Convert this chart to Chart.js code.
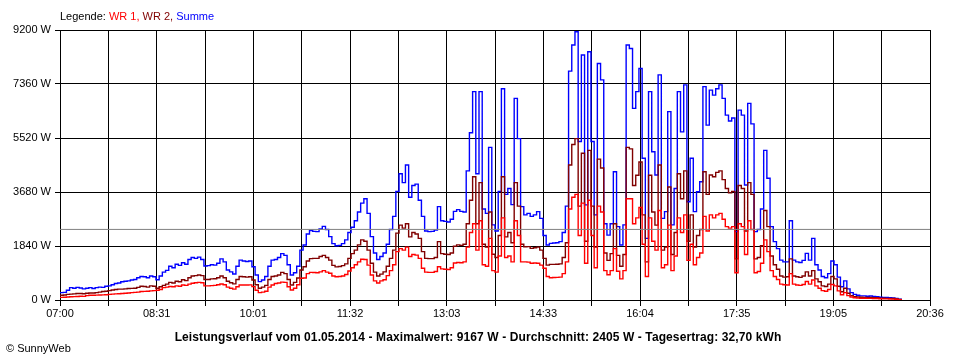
<!DOCTYPE html>
<html>
<head>
<meta charset="utf-8">
<script src="https://cdn.jsdelivr.net/npm/chart.js@4"></script>
<style>
  body { margin: 0; background: #fff; }
  #wrap { position: relative; width: 960px; height: 360px; font-family: "Liberation Sans", Arial, sans-serif; font-size: 11px; color: #000; }
  #legend { position: absolute; left: 60px; top: 10px; white-space: nowrap; }
  #title { position: absolute; left: 0; width: 956px; top: 330px; text-align: center; font-weight: bold; font-size: 12px; letter-spacing: 0.1px; white-space: nowrap; }
  #copy { position: absolute; left: 6px; top: 342px; }
  canvas { position: absolute; left: 0; top: 0; }
</style>
</head>
<body>
<div id="wrap">
  <canvas id="chart" width="960" height="360"></canvas>
  <div id="legend">Legende: <span style="color:#ff0000">WR 1,</span> <span style="color:#800000">WR 2,</span> <span style="color:#0000ff">Summe</span></div>
  <div id="title">Leistungsverlauf vom 01.05.2014 - Maximalwert: 9167 W - Durchschnitt: 2405 W - Tagesertrag: 32,70 kWh</div>
  <div id="copy">© SunnyWeb</div>
</div>
<script>
// minutes since midnight, one reading every 3 minutes from 07:00
const startMin = 420;
const stepMin = 3;
const axisStart = 420;  // 07:00
const axisEnd = 1236;   // 20:36
const timeLabels = ['07:00', '08:31', '10:01', '11:32', '13:03', '14:33', '16:04', '17:35', '19:05', '20:36'];
const yTicks = [0, 1840, 3680, 5520, 7360, 9200];
const average = 2405;

const wr1 = [
  90,95,100,110,115,120,130,125,150,160,
  160,165,170,175,180,190,200,210,215,220,
  230,240,250,260,270,290,295,300,310,320,
  330,360,420,440,460,450,480,470,510,500,
  540,570,590,600,590,480,480,490,500,520,
  545,520,440,400,370,450,510,510,510,515,
  455,330,250,270,300,440,510,560,580,610,
  600,450,340,400,520,740,750,900,940,935,
  930,960,1000,950,910,820,790,800,820,870,
  990,1100,1200,1300,1390,1380,1190,850,650,580,
  650,690,830,1000,1200,1650,1750,1700,1800,1480,
  1550,1530,1420,1080,950,940,940,970,1135,1060,
  1050,1040,1100,1260,1280,1270,1300,
  1800,2300,2600,1700,2700,1200,1150,2100,1000,950,1500,2800,1450,1500,1300,2700,2200,1300,
  1300,1290,1250,1260,1250,1190,1080,800,760,765,770,780,
  900,1300,3100,3500,3600,2200,3300,1250,3400,2200,1100,3200,3000,1000,860,1000,1750,980,720,1000,
  3450,3450,2600,2800,3150,1900,800,2800,2000,1700,3050,1100,1200,2550,1000,1500,2800,2300,2900,1350,
  1900,1200,1450,1600,2850,2350,2900,2800,2900,2950,2750,2500,2450,2500,930,2600,2500,1550,2700,2400,
  930,970,1250,2050,1650,1000,
  800,700,540,520,510,900,540,510,500,530,630,540,680,480,400,320,300,360,530,480,310,180,250,150,100,75,
  65,60,60,55,55,50,50,45,40,40,35,30,25,12,0
];

const wr2 = [
  160,170,190,200,210,220,220,215,230,240,
  240,250,270,290,300,320,340,360,370,370,
  380,390,395,400,430,470,460,440,480,470,
  400,450,500,540,600,580,640,620,690,660,
  760,820,830,850,830,700,700,720,725,760,
  820,760,640,590,550,700,800,790,780,790,
  680,520,400,440,500,700,800,820,850,940,
  900,700,510,600,750,1020,1135,1330,1410,1420,
  1420,1480,1520,1450,1360,1180,1130,1140,1170,1230,
  1420,1580,1700,1880,2050,2000,1700,1250,950,820,
  880,960,1150,1420,1700,2280,2550,2450,2600,2150,
  2300,2250,2100,1650,1420,1410,1410,1450,1990,1580,
  1560,1550,1600,1830,1880,1860,1900,
  2600,3400,4200,2600,4000,1900,1800,3000,1560,1450,2200,4200,2150,2300,1950,4000,3200,1900,
  1815,1820,1760,1780,1800,1700,1420,1190,1215,1215,1220,1230,
  1450,1950,4600,5300,5500,3200,5000,2000,5100,3200,1800,4800,4500,1600,1350,1580,2600,1520,1150,1550,
  5200,5150,3900,4250,4700,2900,1300,4250,3000,2550,4600,1700,1800,3850,1550,2300,4300,3450,4400,2000,
  2900,1800,2200,2400,4370,3600,4260,4200,4350,4400,4100,3800,3650,3700,1400,3900,3800,2350,4000,3600,
  1400,1450,1850,3050,2500,1500,
  1200,1050,820,780,790,1400,820,790,770,820,960,820,1000,720,620,480,460,540,800,720,470,280,400,230,150,115,
  100,95,90,85,85,80,75,65,60,55,55,50,35,18,0
];

const summe = [
  250,260,330,420,400,430,410,380,400,420,
  390,420,440,430,470,480,520,560,580,620,
  640,650,680,700,760,800,790,760,820,790,
  690,820,950,1010,1150,1100,1220,1180,1270,1220,
  1380,1450,1420,1460,1380,1160,1170,1200,1190,1250,
  1400,1300,1020,960,885,1150,1360,1330,1310,1330,
  1135,850,625,680,800,1150,1360,1380,1450,1580,
  1520,1200,850,930,1150,1700,1875,2250,2370,2340,
  2330,2420,2510,2400,2160,1920,1850,1860,1920,2050,
  2300,2480,2700,3000,3300,3450,2950,2160,1600,1380,
  1480,1600,1900,2400,2850,3700,4300,4000,4600,3500,
  3900,3950,3400,2850,2350,2330,2340,2380,3180,2700,
  2680,2660,2750,3020,3080,3020,3000,
  4400,5700,7100,4300,7100,3100,2950,5200,2560,2350,3700,7200,3600,3800,3250,6870,5500,3180,
  2900,2950,2850,2900,3010,2780,2200,1875,1930,1940,1950,1990,
  2300,3200,7800,8690,9140,5400,8350,3240,8460,5400,2900,8060,7500,2600,2210,2600,4370,2500,1875,2560,
  8690,8570,6530,7100,7890,4830,2100,7100,5050,4260,7670,2780,3010,6420,2560,3800,7100,5730,7330,3350,
  4830,3010,3690,4030,7270,5960,7150,6980,7200,7330,6870,6300,6100,6200,2330,6470,6300,3920,6700,6000,
  2330,2400,3100,5100,4150,2500,
  1990,1750,1360,1300,1300,2700,1360,1300,1280,1350,1590,1360,2100,1200,1020,800,760,900,1330,1200,780,450,650,380,250,190,
  160,140,140,130,135,120,110,95,90,90,80,70,50,25,0
];

const toPoints = (values) => values.map((v, i) => ({ x: startMin + i * stepMin, y: v }));
const gridCount = (timeLabels.length - 1) * 2;
const xGrid = [];
for (let k = 0; k <= gridCount; k++) xGrid.push(axisStart + k * (axisEnd - axisStart) / gridCount);

const tickFont = { family: '"Liberation Sans", Arial, sans-serif', size: 11 };
const series = (label, values, color, order) => ({
  label, data: toPoints(values), borderColor: color, backgroundColor: color,
  borderWidth: 1.4, pointRadius: 0, stepped: true, order
});

new Chart(document.getElementById('chart'), {
  type: 'line',
  data: {
    datasets: [
      { label: 'Durchschnitt', data: [{ x: axisStart, y: average }, { x: axisEnd, y: average }],
        borderColor: '#808080', borderWidth: 1, pointRadius: 0, order: 0 },
      series('WR 1', wr1, '#ff0000', 1),
      series('WR 2', wr2, '#800000', 2),
      series('Summe', summe, '#0000ff', 3)
    ]
  },
  options: {
    responsive: false,
    animation: false,
    devicePixelRatio: 1,
    layout: { padding: { top: 30, right: 30, left: 0, bottom: 0 } },
    plugins: { legend: { display: false }, tooltip: { enabled: false } },
    scales: {
      x: {
        type: 'linear', min: axisStart, max: axisEnd,
        afterBuildTicks: (scale) => { scale.ticks = xGrid.map(v => ({ value: v })); },
        afterFit: (scale) => { scale.height = 60; },
        grid: { color: '#000', lineWidth: 1, tickLength: 6, tickColor: '#000' },
        border: { color: '#000' },
        ticks: {
          autoSkip: false, maxRotation: 0, padding: 1, color: '#000', font: tickFont,
          callback: (v, i) => (i % 2 === 0 ? timeLabels[i / 2] : '')
        }
      },
      y: {
        min: 0, max: 9200,
        afterBuildTicks: (scale) => { scale.ticks = yTicks.map(v => ({ value: v })); },
        afterFit: (scale) => { scale.width = 60; },
        grid: { color: '#000', lineWidth: 1, tickLength: 5, tickColor: '#000' },
        border: { color: '#000' },
        ticks: { padding: 4, color: '#000', font: tickFont, callback: (v) => v + ' W' }
      }
    }
  }
});
</script>
</body>
</html>
